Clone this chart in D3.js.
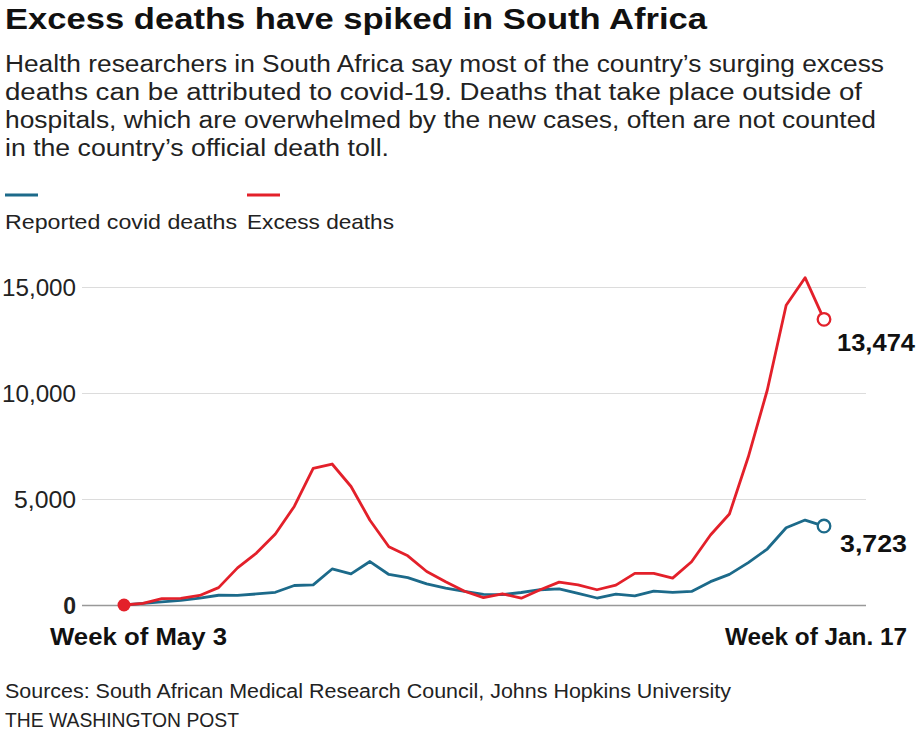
<!DOCTYPE html>
<html><head><meta charset="utf-8">
<script src="https://cdn.jsdelivr.net/npm/d3@7"></script>
<style>
body{margin:0;background:#fff;}
svg{display:block;font-family:"Liberation Sans",Arial,sans-serif;}
</style>
</head><body>
<svg id="chart" width="916" height="734"></svg>
<script>
// ---- data ----
const weeks = ["2020-05-03","2020-05-10","2020-05-17","2020-05-24","2020-05-31","2020-06-07","2020-06-14","2020-06-21","2020-06-28",
  "2020-07-05","2020-07-12","2020-07-19","2020-07-26","2020-08-02","2020-08-09","2020-08-16","2020-08-23","2020-08-30",
  "2020-09-06","2020-09-13","2020-09-20","2020-09-27","2020-10-04","2020-10-11","2020-10-18","2020-10-25",
  "2020-11-01","2020-11-08","2020-11-15","2020-11-22","2020-11-29","2020-12-06","2020-12-13","2020-12-20","2020-12-27",
  "2021-01-03","2021-01-10","2021-01-17"];
const reportedCovidDeaths = [0,80,150,220,320,460,450,520,600,920,950,1700,1470,2050,1440,1290,1000,800,640,500,490,590,720,760,550,330,510,430,650,600,640,1100,1445,2000,2640,3645,4006,3723];
const excessDeaths = [0,80,300,310,450,820,1750,2450,3350,4650,6450,6650,5590,4000,2750,2320,1580,1100,650,350,530,320,720,1080,950,720,940,1490,1490,1270,2040,3300,4290,6990,10130,14140,15440,13474];
const yTicks = [0,5000,10000,15000];
const xLabels = ["Week of May 3","Week of Jan. 17"];
const seriesNames = ["Reported covid deaths","Excess deaths"];
const titleText = "Excess deaths have spiked in South Africa";
const subtitleLines = ["Health researchers in South Africa say most of the country\u2019s surging excess",
  "deaths can be attributed to covid-19. Deaths that take place outside of",
  "hospitals, which are overwhelmed by the new cases, often are not counted",
  "in the country\u2019s official death toll."];
const sourceText = "Sources: South African Medical Research Council, Johns Hopkins University";
const creditText = "THE WASHINGTON POST";

// ---- styles ----
const BLUE = "#1c6a8a", RED = "#e3202a", INK = "#111";
const svg = d3.select("#chart");

function txt(s, x, y, size, weight, len, anchor, fill) {
  const t = svg.append("text").attr("x", x).attr("y", y).text(s)
    .attr("font-size", size).attr("font-weight", weight || "normal")
    .attr("fill", fill || INK).attr("text-anchor", anchor || "start");
  if (len) t.attr("textLength", len).attr("lengthAdjust", "spacingAndGlyphs");
  return t;
}

// title & subtitle
txt(titleText, 5, 29, 30, "bold", 702);
const subW = [879, 857, 871, 384];
subtitleLines.forEach((l, i) => txt(l, 5, 72 + i * 28, 23, "normal", subW[i], "start", "#222"));

// legend
const legendX = [5, 247], legendW = [232, 147];
[BLUE, RED].forEach((c, i) => {
  svg.append("line").attr("x1", legendX[i]).attr("x2", legendX[i] + 33)
    .attr("y1", 195).attr("y2", 195).attr("stroke", c).attr("stroke-width", 3);
  txt(seriesNames[i], legendX[i], 229, 21, "normal", legendW[i], "start", "#222");
});

// scales
const x = d3.scalePoint().domain(weeks).range([124, 824]);
const y = d3.scaleLinear().domain([0, 15000]).range([605, 287]);

// y axis / gridlines
const gridLeft = 82, gridRight = 866;
const yAxis = svg.append("g").attr("transform", `translate(${gridLeft},0)`)
  .call(d3.axisLeft(y).tickValues(yTicks).tickSize(-(gridRight - gridLeft)).tickPadding(6)
    .tickFormat(d3.format(",")));
yAxis.select(".domain").remove();
yAxis.selectAll(".tick line").attr("stroke", d => d === 0 ? "#999" : "#dcdcdc")
  .attr("stroke-width", d => d === 0 ? 1.6 : 1);
yAxis.selectAll(".tick text").attr("font-size", 23).attr("fill", "#222")
  .attr("font-family", "'Liberation Sans',Arial,sans-serif")
  .attr("font-weight", d => d === 0 ? "bold" : "normal")
  .attr("dy", "0.35em")
  .attr("textLength", d => d === 0 ? null : (d >= 10000 ? 74 : 62))
  .attr("lengthAdjust", "spacingAndGlyphs");

// x labels
txt(xLabels[0], 50, 645, 23, "bold", 177);
txt(xLabels[1], 907, 645, 23, "bold", 182, "end");

// lines
const line = d3.line().x((d, i) => x(weeks[i])).y(d => y(d));
svg.append("path").datum(reportedCovidDeaths).attr("d", line)
  .attr("fill", "none").attr("stroke", BLUE).attr("stroke-width", 2.8)
  .attr("stroke-linejoin", "round").attr("stroke-linecap", "round");
svg.append("path").datum(excessDeaths).attr("d", line)
  .attr("fill", "none").attr("stroke", RED).attr("stroke-width", 2.8)
  .attr("stroke-linejoin", "round").attr("stroke-linecap", "round");

// start dot
svg.append("circle").attr("cx", x(weeks[0])).attr("cy", y(excessDeaths[0])).attr("r", 6.5).attr("fill", RED);

// end markers
const last = weeks.length - 1;
[[reportedCovidDeaths, BLUE], [excessDeaths, RED]].forEach(([s, c]) => {
  svg.append("circle").attr("cx", x(weeks[last])).attr("cy", y(s[last])).attr("r", 6.3)
    .attr("fill", "#fff").attr("stroke", c).attr("stroke-width", 2.3);
});
txt(d3.format(",")(excessDeaths[last]), 837, y(excessDeaths[last]) + 32, 23, "bold", 78);
txt(d3.format(",")(reportedCovidDeaths[last]), 840, y(reportedCovidDeaths[last]) + 26, 23, "bold", 67);

// footer
txt(sourceText, 5, 698, 20, "normal", 726, "start", "#222");
txt(creditText, 5, 727, 20, "normal", 234, "start", "#222");
</script>
</body></html>
